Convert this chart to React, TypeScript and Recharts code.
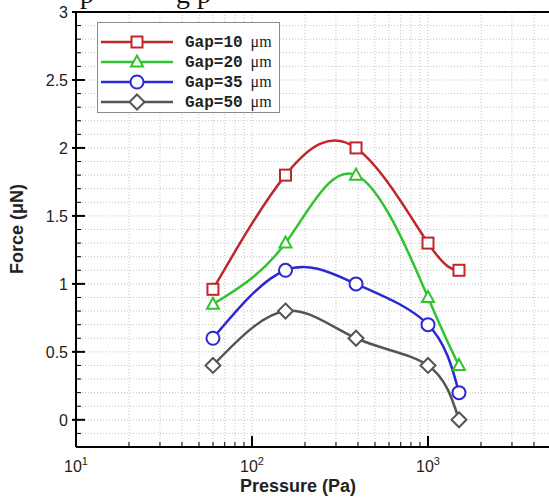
import React from "react";
import {
  LineChart,
  Line,
  XAxis,
  YAxis,
  CartesianGrid,
  ReferenceLine,
  Legend,
  Label,
} from "recharts";

// pressure (Pa) at the measured points
const pressures = [60, 155, 390, 1000, 1500];

// force (uN) for each gap
const gap10 = [0.96, 1.8, 2.0, 1.3, 1.1];
const gap20 = [0.85, 1.3, 1.8, 0.9, 0.4];
const gap35 = [0.6, 1.1, 1.0, 0.7, 0.2];
const gap50 = [0.4, 0.8, 0.6, 0.4, 0.0];

const seriesLabels = ["Gap=10", "Gap=20", "Gap=35", "Gap=50"];

// labelled decades (10^4 sits past the cropped right edge, so only its tick is drawn)
const xLabelTicks = [10, 100, 1000];
const xMajorTicks = [10, 100, 1000, 10000];
const xMinorTicks = [
  20, 30, 40, 50, 60, 70, 80, 90,
  200, 300, 400, 500, 600, 700, 800, 900,
  2000, 3000, 4000, 5000, 6000, 7000, 8000, 9000,
];
const yMajorTicks = [0, 0.5, 1, 1.5, 2, 2.5, 3];
const yMinorTicks = [
  -0.2, -0.1, 0.1, 0.2, 0.3, 0.4, 0.6, 0.7, 0.8, 0.9, 1.1, 1.2, 1.3, 1.4,
  1.6, 1.7, 1.8, 1.9, 2.1, 2.2, 2.3, 2.4, 2.6, 2.7, 2.8, 2.9,
];

const data = pressures.map((p, i) => ({
  p,
  g10: gap10[i],
  g20: gap20[i],
  g35: gap35[i],
  g50: gap50[i],
}));

const series = [
  { key: "g10", name: seriesLabels[0], color: "#c0272b", shape: "square" },
  { key: "g20", name: seriesLabels[1], color: "#2fc42f", shape: "triangle" },
  { key: "g35", name: seriesLabels[2], color: "#2a2ad0", shape: "circle" },
  { key: "g50", name: seriesLabels[3], color: "#555555", shape: "diamond" },
];

const tickFont = "'Liberation Sans', Arial, sans-serif";

function Marker({ cx, cy, shape, color }: any) {
  if (cx == null || cy == null) return null;
  const common = { fill: "#fff", stroke: color, strokeWidth: 2 };
  if (shape === "square")
    return <rect x={cx - 5.5} y={cy - 5.5} width={11} height={11} {...common} />;
  if (shape === "triangle")
    return (
      <polygon
        points={`${cx},${cy - 6.5} ${cx + 6},${cy + 4.5} ${cx - 6},${cy + 4.5}`}
        {...common}
      />
    );
  if (shape === "circle") return <circle cx={cx} cy={cy} r={6.5} {...common} />;
  return (
    <polygon
      points={`${cx},${cy - 7.5} ${cx + 7.5},${cy} ${cx},${cy + 7.5} ${cx - 7.5},${cy}`}
      {...common}
    />
  );
}

const inList = (list: number[], v: number) =>
  list.some((t) => Math.abs(t - v) < 1e-6);

function XTick({ x, y, payload }: any) {
  const v = payload.value;
  const major = inList(xMajorTicks, v);
  return (
    <g>
      <line
        x1={x}
        x2={x}
        y1={y}
        y2={y - (major ? 11 : 5)}
        stroke="#000"
        strokeWidth={major ? 2 : 1}
      />
      {inList(xLabelTicks, v) && (
        <text
          x={x}
          y={y + 25}
          textAnchor="middle"
          fontFamily={tickFont}
          fontSize={16}
          fill="#222"
        >
          <tspan>10</tspan>
          <tspan dy={-7} fontSize={11}>
            {Math.round(Math.log10(v))}
          </tspan>
        </text>
      )}
    </g>
  );
}

function YTick({ x, y, payload }: any) {
  const v = payload.value;
  const major = inList(yMajorTicks, v);
  return (
    <g>
      <line
        x1={major ? x - 4 : x}
        x2={x + (major ? 9 : 5)}
        y1={y}
        y2={y}
        stroke="#000"
        strokeWidth={major ? 2 : 1}
      />
      {major && (
        <text
          x={x - 8}
          y={y}
          dy="0.36em"
          textAnchor="end"
          fontFamily={tickFont}
          fontSize={16}
          fill="#222"
        >
          {String(v)}
        </text>
      )}
    </g>
  );
}

function LegendBox() {
  return (
    <div
      style={{
        width: 183,
        height: 91,
        boxSizing: "border-box",
        border: "1px solid #8a8a8a",
        background: "#fff",
        paddingTop: 9,
      }}
    >
      {series.map((s) => (
        <div key={s.key} style={{ height: 20, display: "flex", alignItems: "center" }}>
          <svg width={80} height={20} style={{ display: "block" }}>
            <line x1={3} x2={75} y1={10} y2={10} stroke={s.color} strokeWidth={2.5} />
            <Marker cx={39} cy={10} shape={s.shape} color={s.color} />
          </svg>
          <span
            style={{
              marginLeft: 7,
              fontFamily: "'Liberation Mono', 'Courier New', monospace",
              fontWeight: "bold",
              fontSize: 16,
              color: "#222",
              whiteSpace: "pre",
            }}
          >
            {s.name}
            <span style={{ fontFamily: "'Liberation Serif', serif", fontWeight: "normal" }}>
              {"  μm"}
            </span>
          </span>
        </div>
      ))}
    </div>
  );
}

export default function App() {
  return (
    <div
      style={{
        position: "fixed",
        left: 0,
        top: 0,
        width: 549,
        height: 499,
        overflow: "hidden",
        background: "#fff",
      }}
    >
      {/* bottom edge of the caption line above the figure, cropped in the source */}
      <svg
        width={549}
        height={12}
        style={{ position: "absolute", left: 0, top: 0 }}
      >
        <text x={80} y={3} fontFamily="'Liberation Serif', serif" fontSize={28} fill="#111">
          p
        </text>
        <text x={176} y={3} fontFamily="'Liberation Serif', serif" fontSize={28} fill="#111">
          g p
        </text>
      </svg>
      <LineChart
        width={620}
        height={499}
        data={data}
        margin={{ top: 12, right: 16, bottom: 0, left: 16 }}
      >
        <CartesianGrid
          stroke="#c4c4c4"
          strokeDasharray="1 2"
          horizontalValues={[...yMinorTicks, ...yMajorTicks]}
          verticalValues={[...xMinorTicks, ...xMajorTicks]}
        />
        <XAxis
          dataKey="p"
          type="number"
          scale="log"
          domain={[10, 10000]}
          ticks={[...xMajorTicks, ...xMinorTicks].sort((a, b) => a - b)}
          interval={0}
          allowDataOverflow
          height={52}
          tickSize={0}
          tickMargin={0}
          tick={(props: any) => <XTick {...props} />}
          axisLine={{ stroke: "#000", strokeWidth: 2 }}
        >
          <Label
            content={() => (
              <text
                x={298}
                y={492}
                textAnchor="middle"
                fontFamily={tickFont}
                fontWeight="bold"
                fontSize={18}
                fill="#222"
              >
                Pressure (Pa)
              </text>
            )}
          />
        </XAxis>
        <YAxis
          type="number"
          domain={[-0.2, 3]}
          ticks={[...yMinorTicks, ...yMajorTicks].sort((a, b) => a - b)}
          interval={0}
          allowDataOverflow
          width={60}
          tickSize={0}
          tickMargin={0}
          tick={(props: any) => <YTick {...props} />}
          axisLine={{ stroke: "#000", strokeWidth: 2 }}
        >
          <Label
            content={() => (
              <text
                x={23}
                y={229}
                transform="rotate(-90 23 229)"
                textAnchor="middle"
                fontFamily={tickFont}
                fontWeight="bold"
                fontSize={18}
                fill="#222"
              >
                Force (μN)
              </text>
            )}
          />
        </YAxis>
        <ReferenceLine y={3} stroke="#000" strokeWidth={2} ifOverflow="visible" />
        <ReferenceLine x={10000} stroke="#000" strokeWidth={2} ifOverflow="visible" />
        {series.map((s) => (
          <Line
            key={s.key}
            dataKey={s.key}
            name={s.name}
            type="natural"
            stroke={s.color}
            strokeWidth={2.5}
            isAnimationActive={false}
            dot={(props: any) => (
              <Marker
                key={`${s.key}-${props.index}`}
                cx={props.cx}
                cy={props.cy}
                shape={s.shape}
                color={s.color}
              />
            )}
            activeDot={false}
          />
        ))}
        <Legend
          layout="vertical"
          align="center"
          verticalAlign="middle"
          wrapperStyle={{ left: 97, top: 22, width: 183, height: 91 }}
          content={() => <LegendBox />}
        />
      </LineChart>
    </div>
  );
}
